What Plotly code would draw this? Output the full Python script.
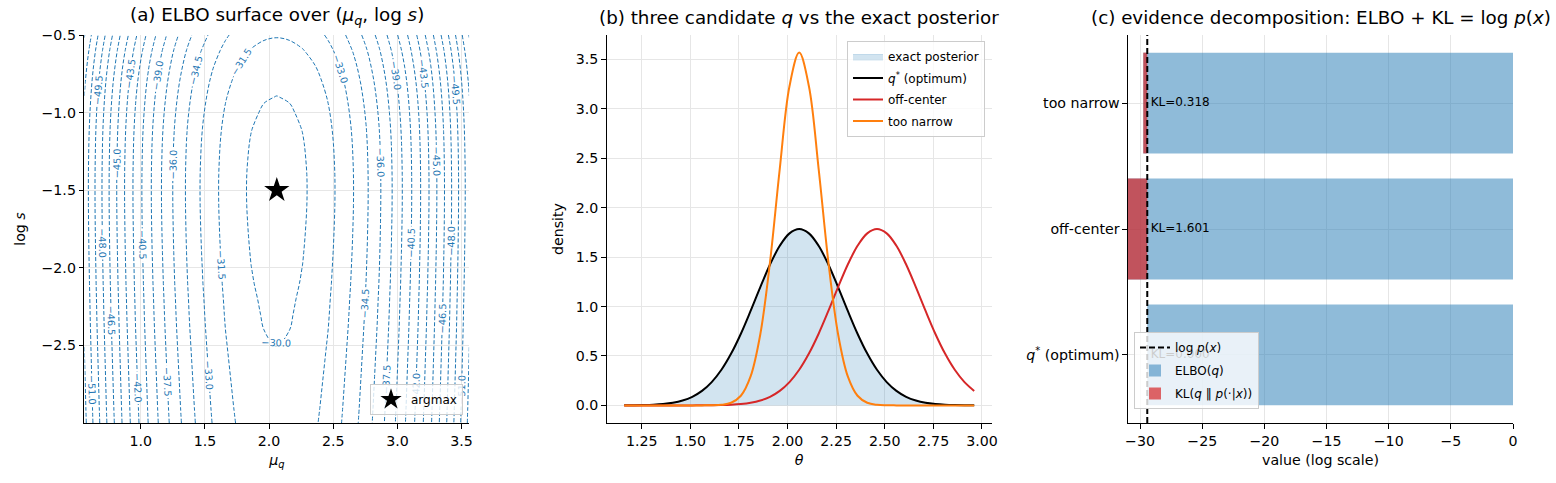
import plotly.graph_objects as go

# ---------------- data ----------------
# (a) ELBO surface: profiles through the optimum
mu_grid = [0.56, 0.66, 0.76, 0.86, 0.96, 1.06, 1.16, 1.26, 1.36, 1.46, 1.56,
           1.66, 1.76, 1.86, 1.96, 2.06, 2.16, 2.26, 2.36, 2.46, 2.56, 2.66,
           2.76, 2.86, 2.96, 3.06, 3.16, 3.26, 3.36, 3.46, 3.56]
elbo_along_mu = [-51.92, -49.02, -46.32, -43.82, -41.52, -39.42, -37.52, -35.82,
                 -34.32, -33.02, -31.92, -31.02, -30.32, -29.82, -29.52, -29.42,
                 -29.52, -29.82, -30.32, -31.02, -31.92, -33.02, -34.32, -35.82,
                 -37.52, -39.42, -41.52, -43.82, -46.32, -49.02, -51.92]
logs_grid = [-3.0, -2.9, -2.8, -2.7, -2.6, -2.5, -2.4, -2.3, -2.2, -2.1, -2.0,
             -1.9, -1.8, -1.7, -1.6, -1.5, -1.4, -1.3, -1.2, -1.1, -1.0, -0.9,
             -0.8, -0.7, -0.6, -0.5]
elbo_along_logs = [-30.45, -30.35, -30.26, -30.17, -30.08, -29.99, -29.90, -29.82,
                   -29.75, -29.67, -29.61, -29.55, -29.50, -29.46, -29.43, -29.42,
                   -29.43, -29.47, -29.53, -29.63, -29.78, -29.98, -30.24, -30.59,
                   -31.03, -31.60]
elbo_peak = -29.42
argmax_mu = [2.06]
argmax_logs = [-1.50]
contour_levels = dict(start=-54.0, end=-30.0, size=1.5)

# (b) densities
theta = [1.16, 1.21, 1.26, 1.31, 1.36, 1.41, 1.46, 1.51, 1.56, 1.61, 1.66, 1.71,
         1.76, 1.81, 1.86, 1.91, 1.96, 2.01, 2.06, 2.11, 2.16, 2.21, 2.26, 2.31,
         2.36, 2.41, 2.46, 2.51, 2.56, 2.61, 2.66, 2.71, 2.76, 2.81, 2.86, 2.91, 2.96]
exact_post = [0.0005, 0.0013, 0.0030, 0.0064, 0.0133, 0.0261, 0.0487, 0.0866,
              0.1464, 0.2355, 0.360, 0.524, 0.725, 0.955, 1.196, 1.425, 1.614,
              1.740, 1.784, 1.740, 1.614, 1.425, 1.196, 0.955, 0.725, 0.524,
              0.360, 0.2355, 0.1464, 0.0866, 0.0487, 0.0261, 0.0133, 0.0064,
              0.0030, 0.0013, 0.0005]
q_opt = [0.0005, 0.0013, 0.0030, 0.0064, 0.0133, 0.0261, 0.0487, 0.0866,
         0.1464, 0.2355, 0.360, 0.524, 0.725, 0.955, 1.196, 1.425, 1.614,
         1.740, 1.784, 1.740, 1.614, 1.425, 1.196, 0.955, 0.725, 0.524,
         0.360, 0.2355, 0.1464, 0.0866, 0.0487, 0.0261, 0.0133, 0.0064,
         0.0030, 0.0013, 0.0005]
q_off = [0.0, 0.0, 0.0, 0.0, 0.0, 0.0, 0.0001, 0.0002, 0.0005, 0.0013, 0.0030,
         0.0064, 0.0133, 0.0261, 0.0487, 0.0866, 0.1464, 0.2355, 0.360, 0.524,
         0.725, 0.955, 1.196, 1.425, 1.614, 1.740, 1.784, 1.740, 1.614, 1.425,
         1.196, 0.955, 0.725, 0.524, 0.360, 0.2355, 0.1464]
q_narrow = [0.0, 0.0, 0.0, 0.0, 0.0, 0.0, 0.0, 0.0, 0.0002, 0.0011, 0.0059,
            0.0266, 0.0975, 0.293, 0.720, 1.451, 2.392, 3.228, 3.568, 3.228,
            2.392, 1.451, 0.720, 0.293, 0.0975, 0.0266, 0.0059, 0.0011, 0.0002,
            0.0, 0.0, 0.0, 0.0, 0.0, 0.0, 0.0, 0.0]

# (c) evidence decomposition
cand_labels = ["<i>q</i><sup>*</sup> (optimum)", "off-center", "too narrow"]
cand_pos = [0, 1, 2]
elbo_vals = [-29.42, -31.02, -29.74]
kl_vals = [0.000, 1.601, 0.318]
kl_text = ["KL=0.000", "KL=1.601", "KL=0.318"]
log_px = -29.42

# ---------------- figure ----------------
FONT = "DejaVu Sans"
W, H = 1556, 483
BLUE = "#1f77b4"
TICK = 14.2
LEG = 12
TITLE = 18.3

ydom = [1 - 423 / H, 1 - 35 / H]
xa = [84.3 / W, 469.3 / W]
xb = [606.7 / W, 991.7 / W]
xc = [1128.0 / W, 1513.0 / W]

z = [[a + b - elbo_peak for a in elbo_along_mu] for b in elbo_along_logs]

fig = go.Figure()

fig.add_trace(go.Contour(
    x=mu_grid, y=logs_grid, z=z,
    contours=dict(start=contour_levels["start"], end=contour_levels["end"],
                  size=contour_levels["size"], coloring="lines",
                  showlabels=True, labelformat=".1f",
                  labelfont=dict(size=9.7, color=BLUE, family=FONT)),
    colorscale=[[0, BLUE], [1, BLUE]], showscale=False,
    line=dict(width=1, dash="4px,2px", smoothing=1.0),
    hoverinfo="skip", showlegend=False, xaxis="x", yaxis="y"))

fig.add_trace(go.Scatter(
    x=argmax_mu, y=argmax_logs, mode="markers", name="argmax",
    marker=dict(symbol="star", size=19, color="black"),
    xaxis="x", yaxis="y", legend="legend"))

# (b)
fig.add_trace(go.Scatter(
    x=theta, y=exact_post, mode="lines", name="exact posterior",
    line=dict(width=0.8, color="rgba(31,119,180,0.25)", shape="spline"),
    fill="tozeroy", fillcolor="rgba(31,119,180,0.2)",
    xaxis="x2", yaxis="y2", legend="legend2", legendgroup="b1"))
fig.add_trace(go.Scatter(
    x=theta, y=q_opt, mode="lines", name="<i>q</i><sup>*</sup> (optimum)",
    line=dict(width=2, color="black", shape="spline"),
    xaxis="x2", yaxis="y2", legend="legend2", legendgroup="b2"))
fig.add_trace(go.Scatter(
    x=theta, y=q_off, mode="lines", name="off-center",
    line=dict(width=2, color="#d62728", shape="spline"),
    xaxis="x2", yaxis="y2", legend="legend2", legendgroup="b3"))
fig.add_trace(go.Scatter(
    x=theta, y=q_narrow, mode="lines", name="too narrow",
    line=dict(width=2, color="#ff7f0e", shape="spline"),
    xaxis="x2", yaxis="y2", legend="legend2", legendgroup="b4"))

# (c)  (scatter layer is always drawn above bars)
fig.add_trace(go.Scatter(
    x=[log_px, log_px], y=[-0.54, 2.54], mode="lines", name="log <i>p</i>(<i>x</i>)",
    line=dict(color="black", width=2, dash="6px,3px"),
    xaxis="x3", yaxis="y3", legend="legend3", legendgroup="c1"))
fig.add_trace(go.Bar(
    x=elbo_vals, y=cand_pos, orientation="h", width=0.8, name="ELBO(<i>q</i>)",
    marker=dict(color="rgba(31,119,180,0.5)", line=dict(width=0)),
    xaxis="x3", yaxis="y3", legend="legend3", legendgroup="c2"))
fig.add_trace(go.Bar(
    x=kl_vals, base=elbo_vals, y=cand_pos, orientation="h", width=0.8,
    name="KL(<i>q</i> ‖ <i>p</i>(·|<i>x</i>))",
    marker=dict(color="rgba(214,39,40,0.7)", line=dict(width=0)),
    xaxis="x3", yaxis="y3", legend="legend3", legendgroup="c3"))
fig.add_trace(go.Scatter(
    x=[log_px + 0.28] * 3, y=cand_pos, mode="text", text=kl_text,
    textposition="middle right", textfont=dict(size=LEG, color="black", family=FONT),
    showlegend=False, hoverinfo="skip", xaxis="x3", yaxis="y3"))

axis_common = dict(showline=True, linecolor="black", linewidth=1.1, mirror=False,
                   ticks="outside", ticklen=4.5, tickwidth=1.1, tickcolor="black",
                   showgrid=True, gridcolor="#e6e6e6", gridwidth=1, zeroline=False,
                   automargin=False,
                   tickfont=dict(size=TICK, color="black", family=FONT),
                   title_font=dict(size=TICK, color="black", family=FONT))

leg_common = dict(bgcolor="rgba(255,255,255,0.8)", bordercolor="#cccccc", borderwidth=1,
                  font=dict(size=LEG, family=FONT, color="black"), itemwidth=30)

fig.update_layout(
    width=W, height=H, margin=dict(l=0, r=0, t=0, b=0, autoexpand=False),
    paper_bgcolor="white", plot_bgcolor="white",
    font=dict(family=FONT, color="black"),
    barmode="overlay",
    xaxis=dict(domain=xa, range=[0.56, 3.56], anchor="y",
               tickvals=[1.0, 1.5, 2.0, 2.5, 3.0, 3.5],
               ticktext=["1.0", "1.5", "2.0", "2.5", "3.0", "3.5"],
               title=dict(text="<i>μ<sub>q</sub></i>", standoff=7), **axis_common),
    yaxis=dict(domain=ydom, range=[-3.0, -0.5], anchor="x",
               tickvals=[-2.5, -2.0, -1.5, -1.0, -0.5],
               ticktext=["−2.5", "−2.0", "−1.5", "−1.0", "−0.5"],
               title=dict(text="log <i>s</i>", standoff=12), **axis_common),
    xaxis2=dict(domain=xb, range=[1.07, 3.05], anchor="y2",
                tickvals=[1.25, 1.5, 1.75, 2.0, 2.25, 2.5, 2.75, 3.0],
                ticktext=["1.25", "1.50", "1.75", "2.00", "2.25", "2.50", "2.75", "3.00"],
                title=dict(text="<i>θ</i>", standoff=7), **axis_common),
    yaxis2=dict(domain=ydom, range=[-0.178, 3.746], anchor="x2",
                tickvals=[0, 0.5, 1.0, 1.5, 2.0, 2.5, 3.0, 3.5],
                ticktext=["0.0", "0.5", "1.0", "1.5", "2.0", "2.5", "3.0", "3.5"],
                title=dict(text="density", standoff=8), **axis_common),
    xaxis3=dict(domain=xc, range=[-30.97, 0], anchor="y3",
                tickvals=[-30, -25, -20, -15, -10, -5, 0],
                ticktext=["−30", "−25", "−20", "−15", "−10", "−5", "0"],
                title=dict(text="value (log scale)", standoff=7), **axis_common),
    yaxis3=dict(domain=ydom, range=[-0.54, 2.54], anchor="x3",
                tickvals=cand_pos, ticktext=cand_labels, **axis_common),
    legend=dict(x=463 / W, y=1 - 415 / H, xanchor="right", yanchor="bottom", **leg_common),
    legend2=dict(x=985 / W, y=1 - 41 / H, xanchor="right", yanchor="top",
                 traceorder="grouped", tracegroupgap=2.5, **leg_common),
    legend3=dict(x=1134 / W, y=1 - 409 / H, xanchor="left", yanchor="bottom",
                 traceorder="grouped", tracegroupgap=4, **leg_common),
)

titles = [
    ((xa[0] + xa[1]) / 2, "(a) ELBO surface over (<i>μ<sub>q</sub></i>, log <i>s</i>)"),
    ((xb[0] + xb[1]) / 2, "(b) three candidate <i>q</i> vs the exact posterior"),
    ((xc[0] + xc[1]) / 2, "(c) evidence decomposition: ELBO + KL = log <i>p</i>(<i>x</i>)"),
]
for xc_, txt in titles:
    fig.add_annotation(x=xc_, y=1 - 30 / H, xref="paper", yref="paper",
                       xanchor="center", yanchor="bottom", showarrow=False,
                       text=txt, font=dict(size=TITLE, family=FONT, color="black"))

fig.write_html("out.html", config={"displayModeBar": False},
               post_script="document.body.style.margin='0';document.body.style.overflow='hidden';")
